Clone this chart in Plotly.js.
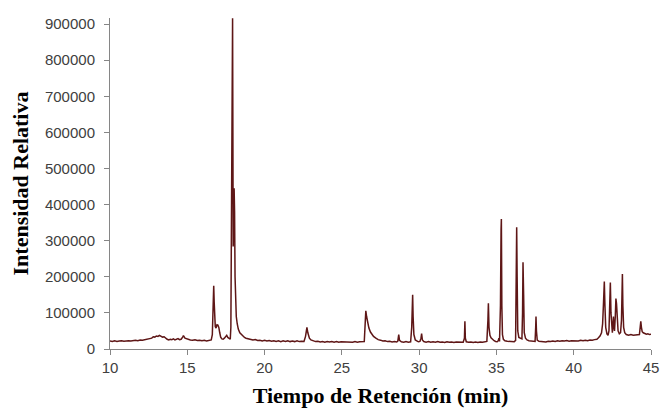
<!DOCTYPE html>
<html>
<head>
<meta charset="utf-8">
<script src="https://cdn.plot.ly/plotly-3.0.1.min.js"></script>
<style>html,body{margin:0;padding:0;background:#fff;}#chart{width:661px;height:408px;}</style>
</head>
<body>
<div id="chart"></div>
<script>
// Retention time (min), one line per segment of the chromatogram
var tiempo = [
10.0,10.15,10.3,10.45,10.6,10.75,10.9,11.05,11.2,11.35,11.5,11.65,11.8,11.95,12.1,12.25,12.4,
12.5,12.6,12.7,12.8,12.9,13.0,13.1,13.2,13.3,13.4,13.5,13.6,13.7,13.8,13.9,14.0,14.1,14.2,14.3,14.4,14.5,14.6,14.7,14.75,14.85,14.95,15.05,15.2,15.35,15.5,15.65,15.8,15.95,16.1,16.25,16.4,
16.55,16.62,16.67,16.71,16.74,16.77,16.81,16.86,16.92,16.98,17.04,17.1,17.16,17.24,17.32,17.4,17.48,17.55,17.62,17.7,17.78,17.82,17.86,17.9,17.93,17.95,17.97,18.0,18.03,18.06,18.09,18.12,18.17,18.23,18.3,18.4,18.5,18.6,18.7,
18.8,18.95,19.1,19.25,19.4,19.55,19.7,19.85,20.0,20.15,20.3,20.45,20.6,20.75,20.9,21.05,21.2,21.35,21.5,21.65,21.8,21.95,22.1,22.25,22.4,22.55,
22.65,22.74,22.8,22.9,23.0,23.15,23.3,23.45,23.6,23.75,23.9,24.05,24.2,24.35,24.5,24.65,24.8,24.95,25.1,25.25,25.4,25.55,25.7,25.85,26.0,26.15,26.3,26.45,
26.52,26.55,26.6,26.66,26.75,26.85,26.95,27.05,27.2,27.35,27.5,27.65,27.8,27.95,28.1,28.25,28.4,28.55,28.62,28.68,28.73,28.85,29.0,29.15,29.3,29.45,
29.52,29.56,29.58,29.61,29.66,29.75,29.85,29.95,30.05,30.12,30.16,30.21,30.3,30.45,30.6,30.75,30.9,31.05,31.2,31.35,31.5,31.65,31.8,31.95,32.1,32.25,32.4,32.55,32.7,32.85,
32.93,32.96,32.99,33.05,33.2,33.35,33.5,33.65,33.8,33.95,34.1,34.25,34.38,34.45,34.48,34.52,34.58,34.65,34.75,34.85,34.95,35.05,35.12,35.16,35.2,
35.26,35.3,35.32,35.35,35.39,35.45,35.55,35.7,35.85,36.0,36.15,36.24,36.28,36.31,36.34,36.38,36.45,36.55,36.65,36.69,36.72,36.76,36.8,36.88,36.98,37.1,37.25,37.4,37.5,37.54,37.56,37.59,37.64,37.75,37.9,
38.05,38.2,38.35,38.5,38.65,38.8,38.95,39.1,39.25,39.4,39.55,39.7,39.85,40.0,40.15,40.3,40.45,40.6,40.75,40.9,41.05,41.2,41.35,41.5,41.6,41.7,41.8,
41.87,41.93,41.98,42.02,42.07,42.15,42.22,42.28,42.33,42.37,42.41,42.45,42.5,42.54,42.57,42.6,42.64,42.69,42.73,42.77,42.82,42.87,42.95,43.03,43.09,43.13,43.15,43.18,43.23,43.3,
43.4,43.55,43.7,43.85,44.0,44.15,44.25,44.3,44.34,44.38,44.43,44.5,44.6,44.7,44.8,44.9,45.0
];
// Relative intensity, same segmentation
var intensidad = [
22000,21000,22500,21000,22000,23000,21500,22500,23000,22000,23500,24000,23000,25000,24500,26000,27000,
29000,31000,30000,34000,33000,36000,35000,38000,36000,33000,34000,29000,27000,25000,27000,26000,28000,25000,27000,29000,26000,27000,33000,37000,30000,28000,26000,25000,24000,25500,23500,24500,23000,24000,22500,24500,
25000,40000,120000,175000,130000,90000,62000,58000,67000,66000,60000,45000,33000,28000,27000,30000,33000,38000,32000,28000,27000,60000,400000,850000,916000,600000,284000,350000,445000,380000,200000,130000,90000,70000,55000,45000,40000,35000,32000,
30000,28000,27500,25000,26000,23500,24500,22500,24000,22000,23500,21500,23000,21000,22500,20500,22500,21000,23000,20500,22000,20500,22500,20500,21500,21000,
35000,60000,45000,30000,25000,22000,20500,21500,19500,21000,19000,20500,19500,21000,19000,20500,18500,20000,19500,21000,19000,20000,18500,20500,19000,20000,19500,20500,
80000,106000,90000,72000,58000,47000,40000,35000,30000,26000,24500,22000,22500,20500,21500,19500,20500,19500,22000,40000,24000,20000,19000,20500,19000,20000,
60000,140000,150000,90000,40000,25000,21500,20000,21000,30000,43000,25000,20500,19000,20500,18500,20000,19000,20500,18500,19500,18000,20000,18500,19500,18000,19500,18500,19000,18500,
30000,77000,30000,20000,18500,19500,18000,19500,18000,19500,18500,19500,21000,80000,127000,60000,38000,31000,26000,23000,21000,20000,23000,30000,21000,
120000,330000,360000,120000,40000,27000,23000,21500,20500,21000,20000,24000,200000,337000,200000,50000,32000,29000,28000,100000,240000,150000,45000,30000,25000,23000,21500,22000,21000,60000,90000,50000,25000,21500,20500,
21000,19500,21500,20500,22000,21000,22500,21500,23000,22000,23500,21500,23000,22500,23500,22000,24000,23000,24500,23000,25000,24000,26000,27000,31000,36000,45000,
70000,130000,187000,120000,60000,42000,38000,50000,140000,184000,100000,50000,45000,70000,90000,60000,50000,90000,140000,125000,90000,50000,42000,45000,80000,190000,208000,120000,60000,45000,
40000,38000,40000,38000,39000,38000,40000,60000,77000,60000,48000,45000,43000,41000,42000,40000,41000
];
var xTicks = [10,15,20,25,30,35,40,45];
var yTicks = [0,100000,200000,300000,400000,500000,600000,700000,800000,900000];

var trace = {
  x: tiempo, y: intensidad, type: 'scatter', mode: 'lines',
  line: {color: '#5e1616', width: 1.5}, hoverinfo: 'skip'
};
var tickFont = {family: 'Liberation Sans, Arial, sans-serif', size: 15, color: '#404040'};
var titleFont = {family: 'Liberation Serif, Times New Roman, serif', size: 22, color: '#000', weight: 'bold'};
var layout = {
  width: 661, height: 408,
  margin: {l: 110, r: 10, t: 18, b: 59},
  paper_bgcolor: '#fff', plot_bgcolor: '#fff',
  showlegend: false,
  xaxis: {
    range: [10, 45], tickmode: 'array', tickvals: xTicks, ticktext: xTicks.map(String),
    showline: true, linecolor: '#868686', linewidth: 1, ticks: 'outside', ticklen: 5, tickcolor: '#868686',
    showgrid: false, zeroline: false, tickfont: tickFont,
    title: {text: 'Tiempo de Retención (min)', font: titleFont, standoff: 14}
  },
  yaxis: {
    range: [0, 917000], tickmode: 'array', tickvals: yTicks, ticktext: yTicks.map(String),
    showline: true, linecolor: '#868686', linewidth: 1, ticks: 'outside', ticklen: 5, tickcolor: '#868686',
    showgrid: false, zeroline: false, tickfont: tickFont, ticklabelstandoff: 6,
    title: {text: 'Intensidad Relativa', font: titleFont, standoff: 10}
  }
};
Plotly.newPlot('chart', [trace], layout, {displayModeBar: false, staticPlot: true});
</script>
</body>
</html>
